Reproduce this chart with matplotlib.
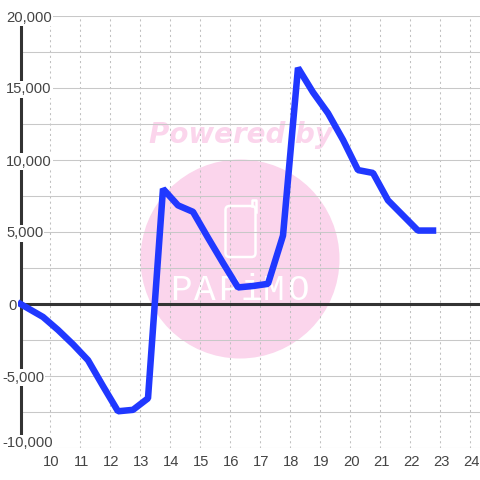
import matplotlib
matplotlib.use("Agg")
import matplotlib.pyplot as plt
from matplotlib.patches import Circle, FancyBboxPatch
from matplotlib.transforms import ScaledTranslation

plt.rcParams['font.family'] = ['Liberation Sans', 'DejaVu Sans']

# half hourly values
hours = [9, 9.25, 9.75, 10.25, 10.75, 11.25, 11.75, 12.25, 12.75, 13.25, 13.75, 14.25, 14.75,
         15.25, 15.75, 16.25, 16.75, 17.25, 17.75, 18.25, 18.75, 19.25, 19.75, 20.25, 20.75,
         21.25, 21.75, 22.25, 22.75]
values = [0, -300, -900, -1800, -2800, -3900, -5700, -7450, -7350, -6550, 8000, 6850, 6400,
          4600, 2850, 1150, 1250, 1400, 4750, 16400, 14700, 13250, 11400, 9300, 9100,
          7200, 6150, 5100, 5100]

x_ticks = list(range(10, 25))
y_major = [-10000, -5000, 0, 5000, 10000, 15000, 20000]
y_labels = ["-10,000", "-5,000", "0", "5,000", "10,000", "15,000", "20,000"]
y_minor = [-7500, -2500, 2500, 7500, 12500, 17500]
logo_letters = ["P", "A", "P", "i", "M", "O"]

fig = plt.figure(figsize=(4.8, 4.8), dpi=100)

# watermark sits behind the chart, this axes works in image pixels
bg = fig.add_axes([0, 0, 1, 1])
bg.set_xlim(0, 480)
bg.set_ylim(480, 0)
bg.axis("off")
pink = "#fbd5ec"
bg.add_patch(Circle((240, 259), 99.5, color=pink, lw=0))
bg.text(241, 135, "Powered by", color=pink, fontsize=20, fontweight="bold", fontstyle="italic",
        family="DejaVu Sans", ha="center", va="center")
bg.add_patch(FancyBboxPatch((225.5, 206), 30, 51, boxstyle="round,pad=0,rounding_size=4",
                            fc="none", ec="white", lw=1.8))
bg.plot([251.5, 251.5, 256, 256], [206, 200, 200, 212], color="white", lw=1.8, solid_joinstyle="round")
for letter, lx in zip(logo_letters, [181, 205, 229, 251, 274, 298]):
    bg.text(lx, 291, letter, color="white", fontsize=26, family="Liberation Mono",
            ha="center", va="center")

ax = fig.add_axes([20.5 / 480, 1 - 448 / 480, 459.5 / 480, 432 / 480])
ax.patch.set_visible(False)
ax.set_xlim(9, 24.317)
ax.set_ylim(-10000, 20000)

ax.set_xticks(x_ticks)
ax.set_yticks(y_major)
ax.set_yticks(y_minor, minor=True)
ax.grid(True, axis="y", which="both", color="#c8c8c8", lw=0.75)
ax.grid(True, axis="x", color="#c0c0c0", lw=0.75, ls=(0, (2, 3)))
ax.set_axisbelow(True)

for side in ["top", "right", "bottom"]:
    ax.spines[side].set_visible(False)
ax.spines["left"].set_color("#333333")
ax.spines["left"].set_linewidth(2.2)
ax.spines["left"].set_zorder(1.5)

ax.axhline(0, color="#333333", lw=2.2, zorder=2)
ax.plot(hours, values, color="#2038ff", lw=4.7, solid_joinstyle="bevel",
        solid_capstyle="projecting", zorder=3, clip_on=False)

ax.tick_params(which="both", length=0)
ax.tick_params(axis="x", labelsize=10.6, labelcolor="#444444", pad=5)
ax.tick_params(axis="y", labelleft=False)
for lab in ax.get_xticklabels():
    lab.set_transform(lab.get_transform() + ScaledTranslation(1 / 100, 0, fig.dpi_scale_trans))

# y labels sit on the axis line with a white box, so they go on top of it
for val, lab in zip(y_major, y_labels):
    dx, dy = -14.5, -1.5
    if lab.startswith("-"):
        dx = -18.5
    if lab == "0":
        dx = -12.5
    if lab == "-10,000":
        dy = 5
    ax.annotate(lab, xy=(0, val), xycoords=ax.get_yaxis_transform(), xytext=(dx, dy),
                textcoords="offset pixels", ha="left", va="center", fontsize=10.6,
                color="#444444", zorder=5, annotation_clip=False,
                bbox=dict(fc="white", ec="none", pad=0.8))

fig.savefig("out.png", dpi=100)
